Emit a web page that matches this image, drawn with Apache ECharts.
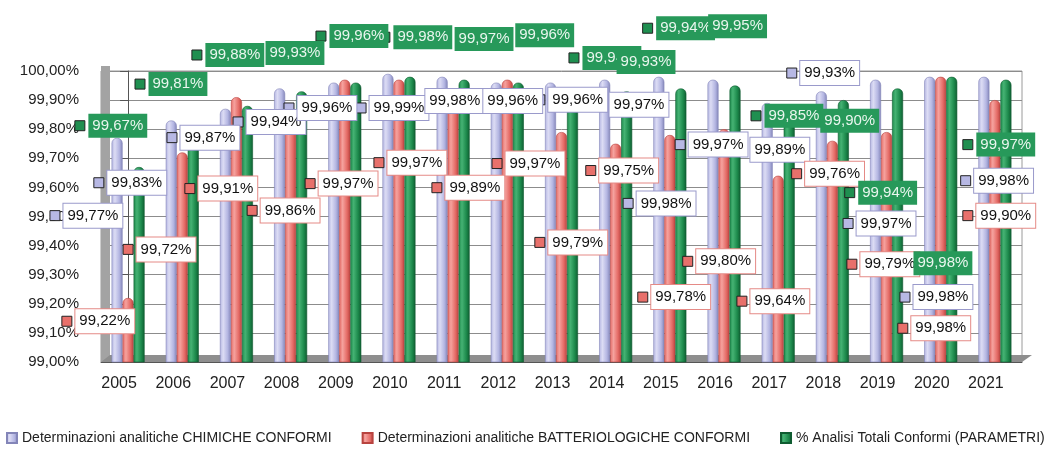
<!DOCTYPE html>
<html>
<head>
<meta charset="utf-8">
<script src="https://cdn.jsdelivr.net/npm/echarts@6/dist/echarts.min.js"></script>
<style>
  html, body { margin: 0; padding: 0; background: #fff; }
  #chart { width: 1061px; height: 451px; }
</style>
</head>
<body>
<div id="chart"></div>
<script>
// anni
var years = ['2005', '2006', '2007', '2008', '2009', '2010', '2011', '2012', '2013',
             '2014', '2015', '2016', '2017', '2018', '2019', '2020', '2021'];

// valori (%)
var chimiche = [99.77, 99.83, 99.87, 99.94, 99.96, 99.99, 99.98, 99.96, 99.96,
                99.97, 99.98, 99.97, 99.89, 99.93, 99.97, 99.98, 99.98];
var batteriologiche = [99.22, 99.72, 99.91, 99.86, 99.97, 99.97, 99.89, 99.97, 99.79,
                       99.75, 99.78, 99.80, 99.64, 99.76, 99.79, 99.98, 99.90];
var totali = [99.67, 99.81, 99.88, 99.93, 99.96, 99.98, 99.97, 99.96, 99.94,
              99.93, 99.94, 99.95, 99.85, 99.90, 99.94, 99.98, 99.97];

// posizione delle etichette (spostate a mano nell'originale): [x categoria, y asse]
var chimicheLabelPos = [[-1.35, 99.503], [-0.54, 99.616], [0.81, 99.771], [2.03, 99.825], [2.97, 99.873],
  [4.30, 99.873], [5.33, 99.897], [6.40, 99.897], [7.60, 99.901], [8.73, 99.884], [9.23, 99.545],
  [10.19, 99.747], [11.33, 99.729], [12.25, 99.993], [13.29, 99.476], [14.34, 99.223], [15.46, 99.623]];
var batteriologicheLabelPos = [[-1.13, 99.140], [0.00, 99.387], [1.14, 99.596], [2.29, 99.521], [3.36, 99.613],
  [4.63, 99.685], [5.70, 99.599], [6.81, 99.682], [7.60, 99.411], [8.54, 99.658], [9.50, 99.223],
  [10.33, 99.346], [11.33, 99.209], [12.34, 99.647], [13.36, 99.336], [14.30, 99.116], [15.50, 99.503]];
var totaliLabelPos = [[-0.89, 99.812], [0.22, 99.955], [1.27, 100.055], [2.38, 100.062], [3.56, 100.120],
  [4.74, 100.116], [5.87, 100.110], [6.99, 100.123], [8.23, 100.045], [8.86, 100.031], [9.59, 100.147],
  [10.55, 100.154], [11.59, 99.846], [12.62, 99.829], [13.32, 99.582], [14.34, 99.339], [15.50, 99.747]];

var names = ['Determinazioni analitiche CHIMICHE CONFORMI',
             'Determinazioni analitiche BATTERIOLOGICHE CONFORMI',
             '% Analisi Totali Conformi (PARAMETRI)'];

function pct(v) { return v.toFixed(2).replace('.', ',') + '%'; }

function cyl(dark, mid, light) {
    return new echarts.graphic.LinearGradient(0, 0, 1, 0, [
        { offset: 0, color: mid },
        { offset: 0.3, color: light },
        { offset: 0.7, color: mid },
        { offset: 1, color: dark }
    ]);
}

function barSeries(name, data, dark, mid, light) {
    return {
        name: name,
        type: 'bar',
        data: data,
        barWidth: 11,
        barGap: '0%',
        xAxisIndex: 0,
        z: 3,
        itemStyle: {
            color: cyl(dark, mid, light),
            borderColor: dark,
            borderWidth: 0.6,
            borderRadius: [5, 5, 0, 0]
        }
    };
}

function labelSeries(values, pos, fill, box) {
    return {
        type: 'scatter',
        xAxisIndex: 1,
        clip: false,
        symbol: 'rect',
        symbolSize: 10,
        silent: true,
        z: 5,
        itemStyle: { color: fill, borderColor: '#222', borderWidth: 1, opacity: 1 },
        data: pos.map(function (p, i) { return [p[0], p[1], values[i]]; }),
        label: {
            show: true,
            position: 'right',
            distance: 3,
            formatter: function (p) { return pct(p.value[2]); },
            fontFamily: 'Liberation Sans',
            fontSize: 15,
            color: box.text,
            backgroundColor: box.bg,
            borderColor: box.border,
            borderWidth: box.border ? 1 : 0,
            padding: [5, 4, 4, 4]
        }
    };
}

var chart = echarts.init(document.getElementById('chart'));
chart.setOption({
    animation: false,
    backgroundColor: '#fff',
    textStyle: { fontFamily: 'Liberation Sans' },
    grid: { left: 101, right: 39, top: 71, bottom: 89, show: true, borderColor: '#9a9a9a', borderWidth: 1 },
    // pareti 3D (decorazione)
    graphic: [{
        type: 'rect', z: 1, silent: true,
        shape: { x: 101, y: 66, width: 9, height: 296 },
        style: { fill: '#a3a3a3' }
    }, {
        type: 'polygon', z: 1, silent: true,
        shape: { points: [[101, 362], [1022, 362], [1032, 355], [110, 355]] },
        style: { fill: '#8e8e8e' }
    }],
    legend: {
        data: names,
        bottom: 6,
        left: 6,
        padding: 0,
        itemWidth: 10,
        itemHeight: 10,
        itemGap: 30,
        icon: 'rect',
        textStyle: { fontSize: 14, color: '#222' }
    },
    xAxis: [{
        type: 'category',
        data: years,
        axisLine: { lineStyle: { color: '#555' } },
        axisTick: { alignWithLabel: false, length: 6, lineStyle: { color: '#555' } },
        axisLabel: { fontSize: 16, color: '#222', margin: 14, padding: [0, 18, 0, 0] }
    }, {
        type: 'value',
        min: -0.5,
        max: 16.5,
        show: false
    }],
    yAxis: {
        type: 'value',
        min: 99,
        max: 100,
        interval: 0.1,
        axisLine: { show: true, lineStyle: { color: '#555' } },
        axisTick: { show: true, length: 8, lineStyle: { color: '#555' } },
        axisLabel: { fontSize: 15, color: '#222', margin: 22, formatter: function (v) { return pct(v); } },
        splitLine: { lineStyle: { color: '#8c8c8c' } }
    },
    series: [
        barSeries(names[0], chimiche, '#8385b8', '#b4b6e2', '#dcdcf4'),
        barSeries(names[1], batteriologiche, '#b8433f', '#e56c67', '#f5a29e'),
        barSeries(names[2], totali, '#0f5c31', '#1d8a4c', '#45b273'),
        labelSeries(chimiche, chimicheLabelPos, '#b7b8e4',
            { bg: '#fff', border: '#9a9acb', text: '#111' }),
        labelSeries(batteriologiche, batteriologicheLabelPos, '#e8706b',
            { bg: '#fff', border: '#e58a86', text: '#111' }),
        labelSeries(totali, totaliLabelPos, '#1f8f50',
            { bg: '#27995a', border: null, text: '#e9f6ee' })
    ]
});
</script>
</body>
</html>
